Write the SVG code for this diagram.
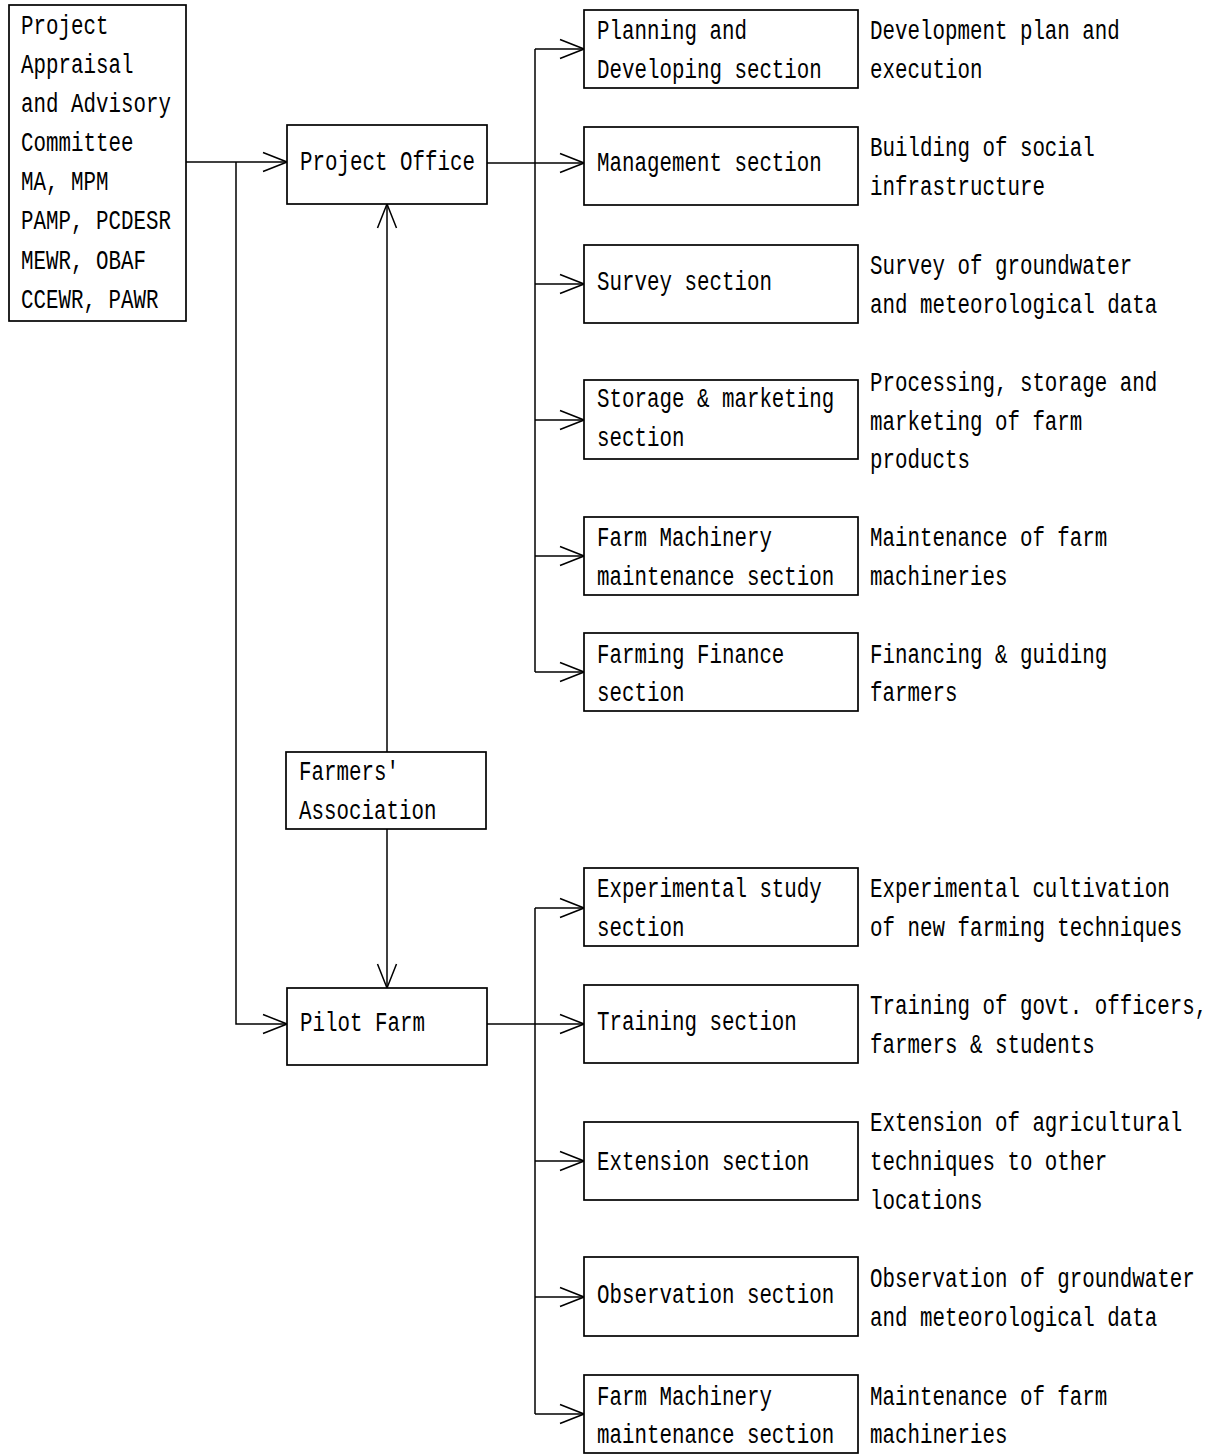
<svg xmlns="http://www.w3.org/2000/svg" width="1219" height="1454" viewBox="0 0 1219 1454">
<style>
.box{fill:#fff;stroke:#000;stroke-width:1.7}
.t{font-family:"Liberation Mono","DejaVu Sans Mono",monospace;font-size:28px;fill:#000}
.ln{fill:none;stroke:#000;stroke-width:1.5}
</style>
<defs>
<marker id="arr" viewBox="0 0 26 22" markerWidth="26" markerHeight="22" refX="25" refY="11" orient="auto" markerUnits="userSpaceOnUse">
<path d="M1,1.5 L25,11 L1,20.5" fill="none" stroke="#000" stroke-width="1.5"/>
</marker>
</defs>
<rect width="1219" height="1454" fill="#fff"/>
<g id="connectors" class="ln">
<path d="M186,162 H287" marker-end="url(#arr)"/>
<path d="M236,162 V1024 H287" marker-end="url(#arr)"/>
<path d="M387,752 V204" marker-end="url(#arr)"/>
<path d="M387,829 V988" marker-end="url(#arr)"/>
<path d="M487,163 H535"/>
<path d="M535,49 V672"/>
<path d="M535,49 H584" marker-end="url(#arr)"/>
<path d="M535,163 H584" marker-end="url(#arr)"/>
<path d="M535,284 H584" marker-end="url(#arr)"/>
<path d="M535,420 H584" marker-end="url(#arr)"/>
<path d="M535,556 H584" marker-end="url(#arr)"/>
<path d="M535,672 H584" marker-end="url(#arr)"/>
<path d="M487,1024 H535"/>
<path d="M535,908 V1414"/>
<path d="M535,908 H584" marker-end="url(#arr)"/>
<path d="M535,1024 H584" marker-end="url(#arr)"/>
<path d="M535,1161 H584" marker-end="url(#arr)"/>
<path d="M535,1297 H584" marker-end="url(#arr)"/>
<path d="M535,1414 H584" marker-end="url(#arr)"/>
</g>
<g id="committee">
<rect class="box" x="9" y="5" width="177" height="316"/>
<text class="t" transform="translate(21 34) scale(0.744 1)">Project</text>
<text class="t" transform="translate(21 73) scale(0.744 1)">Appraisal</text>
<text class="t" transform="translate(21 112) scale(0.744 1)">and Advisory</text>
<text class="t" transform="translate(21 151) scale(0.744 1)">Committee</text>
<text class="t" transform="translate(21 190) scale(0.744 1)">MA, MPM</text>
<text class="t" transform="translate(21 229) scale(0.744 1)">PAMP, PCDESR</text>
<text class="t" transform="translate(21 269) scale(0.744 1)">MEWR, OBAF</text>
<text class="t" transform="translate(21 308) scale(0.744 1)">CCEWR, PAWR</text>
</g>
<g id="project-office">
<rect class="box" x="287" y="125" width="200" height="79"/>
<text class="t" transform="translate(300 170) scale(0.744 1)">Project Office</text>
</g>
<g id="farmers-association">
<rect class="box" x="286" y="752" width="200" height="77"/>
<text class="t" transform="translate(299 780) scale(0.744 1)">Farmers'</text>
<text class="t" transform="translate(299 819) scale(0.744 1)">Association</text>
</g>
<g id="pilot-farm">
<rect class="box" x="287" y="988" width="200" height="77"/>
<text class="t" transform="translate(300 1031) scale(0.744 1)">Pilot Farm</text>
</g>
<g id="planning">
<rect class="box" x="584" y="10" width="274" height="78"/>
<text class="t" transform="translate(597 39) scale(0.744 1)">Planning and</text>
<text class="t" transform="translate(597 78) scale(0.744 1)">Developing section</text>
<text class="t" transform="translate(870 39) scale(0.744 1)">Development plan and</text>
<text class="t" transform="translate(870 78) scale(0.744 1)">execution</text>
</g>
<g id="management">
<rect class="box" x="584" y="127" width="274" height="78"/>
<text class="t" transform="translate(597 171) scale(0.744 1)">Management section</text>
<text class="t" transform="translate(870 156) scale(0.744 1)">Building of social</text>
<text class="t" transform="translate(870 195) scale(0.744 1)">infrastructure</text>
</g>
<g id="survey">
<rect class="box" x="584" y="245" width="274" height="78"/>
<text class="t" transform="translate(597 290) scale(0.744 1)">Survey section</text>
<text class="t" transform="translate(870 274) scale(0.744 1)">Survey of groundwater</text>
<text class="t" transform="translate(870 313) scale(0.744 1)">and meteorological data</text>
</g>
<g id="storage">
<rect class="box" x="584" y="380" width="274" height="79"/>
<text class="t" transform="translate(597 407) scale(0.744 1)">Storage &amp; marketing</text>
<text class="t" transform="translate(597 446) scale(0.744 1)">section</text>
<text class="t" transform="translate(870 391) scale(0.744 1)">Processing, storage and</text>
<text class="t" transform="translate(870 430) scale(0.744 1)">marketing of farm</text>
<text class="t" transform="translate(870 468) scale(0.744 1)">products</text>
</g>
<g id="machinery-1">
<rect class="box" x="584" y="517" width="274" height="78"/>
<text class="t" transform="translate(597 546) scale(0.744 1)">Farm Machinery</text>
<text class="t" transform="translate(597 585) scale(0.744 1)">maintenance section</text>
<text class="t" transform="translate(870 546) scale(0.744 1)">Maintenance of farm</text>
<text class="t" transform="translate(870 585) scale(0.744 1)">machineries</text>
</g>
<g id="finance">
<rect class="box" x="584" y="633" width="274" height="78"/>
<text class="t" transform="translate(597 663) scale(0.744 1)">Farming Finance</text>
<text class="t" transform="translate(597 701) scale(0.744 1)">section</text>
<text class="t" transform="translate(870 663) scale(0.744 1)">Financing &amp; guiding</text>
<text class="t" transform="translate(870 701) scale(0.744 1)">farmers</text>
</g>
<g id="experimental">
<rect class="box" x="584" y="868" width="274" height="78"/>
<text class="t" transform="translate(597 897) scale(0.744 1)">Experimental study</text>
<text class="t" transform="translate(597 936) scale(0.744 1)">section</text>
<text class="t" transform="translate(870 897) scale(0.744 1)">Experimental cultivation</text>
<text class="t" transform="translate(870 936) scale(0.744 1)">of new farming techniques</text>
</g>
<g id="training">
<rect class="box" x="584" y="985" width="274" height="78"/>
<text class="t" transform="translate(597 1030) scale(0.744 1)">Training section</text>
<text class="t" transform="translate(870 1014) scale(0.744 1)">Training of govt. officers,</text>
<text class="t" transform="translate(870 1053) scale(0.744 1)">farmers &amp; students</text>
</g>
<g id="extension">
<rect class="box" x="584" y="1122" width="274" height="78"/>
<text class="t" transform="translate(597 1170) scale(0.744 1)">Extension section</text>
<text class="t" transform="translate(870 1131) scale(0.744 1)">Extension of agricultural</text>
<text class="t" transform="translate(870 1170) scale(0.744 1)">techniques to other</text>
<text class="t" transform="translate(870 1209) scale(0.744 1)">locations</text>
</g>
<g id="observation">
<rect class="box" x="584" y="1257" width="274" height="79"/>
<text class="t" transform="translate(597 1303) scale(0.744 1)">Observation section</text>
<text class="t" transform="translate(870 1287) scale(0.744 1)">Observation of groundwater</text>
<text class="t" transform="translate(870 1326) scale(0.744 1)">and meteorological data</text>
</g>
<g id="machinery-2">
<rect class="box" x="584" y="1375" width="274" height="78"/>
<text class="t" transform="translate(597 1405) scale(0.744 1)">Farm Machinery</text>
<text class="t" transform="translate(597 1443) scale(0.744 1)">maintenance section</text>
<text class="t" transform="translate(870 1405) scale(0.744 1)">Maintenance of farm</text>
<text class="t" transform="translate(870 1443) scale(0.744 1)">machineries</text>
</g>
</svg>
